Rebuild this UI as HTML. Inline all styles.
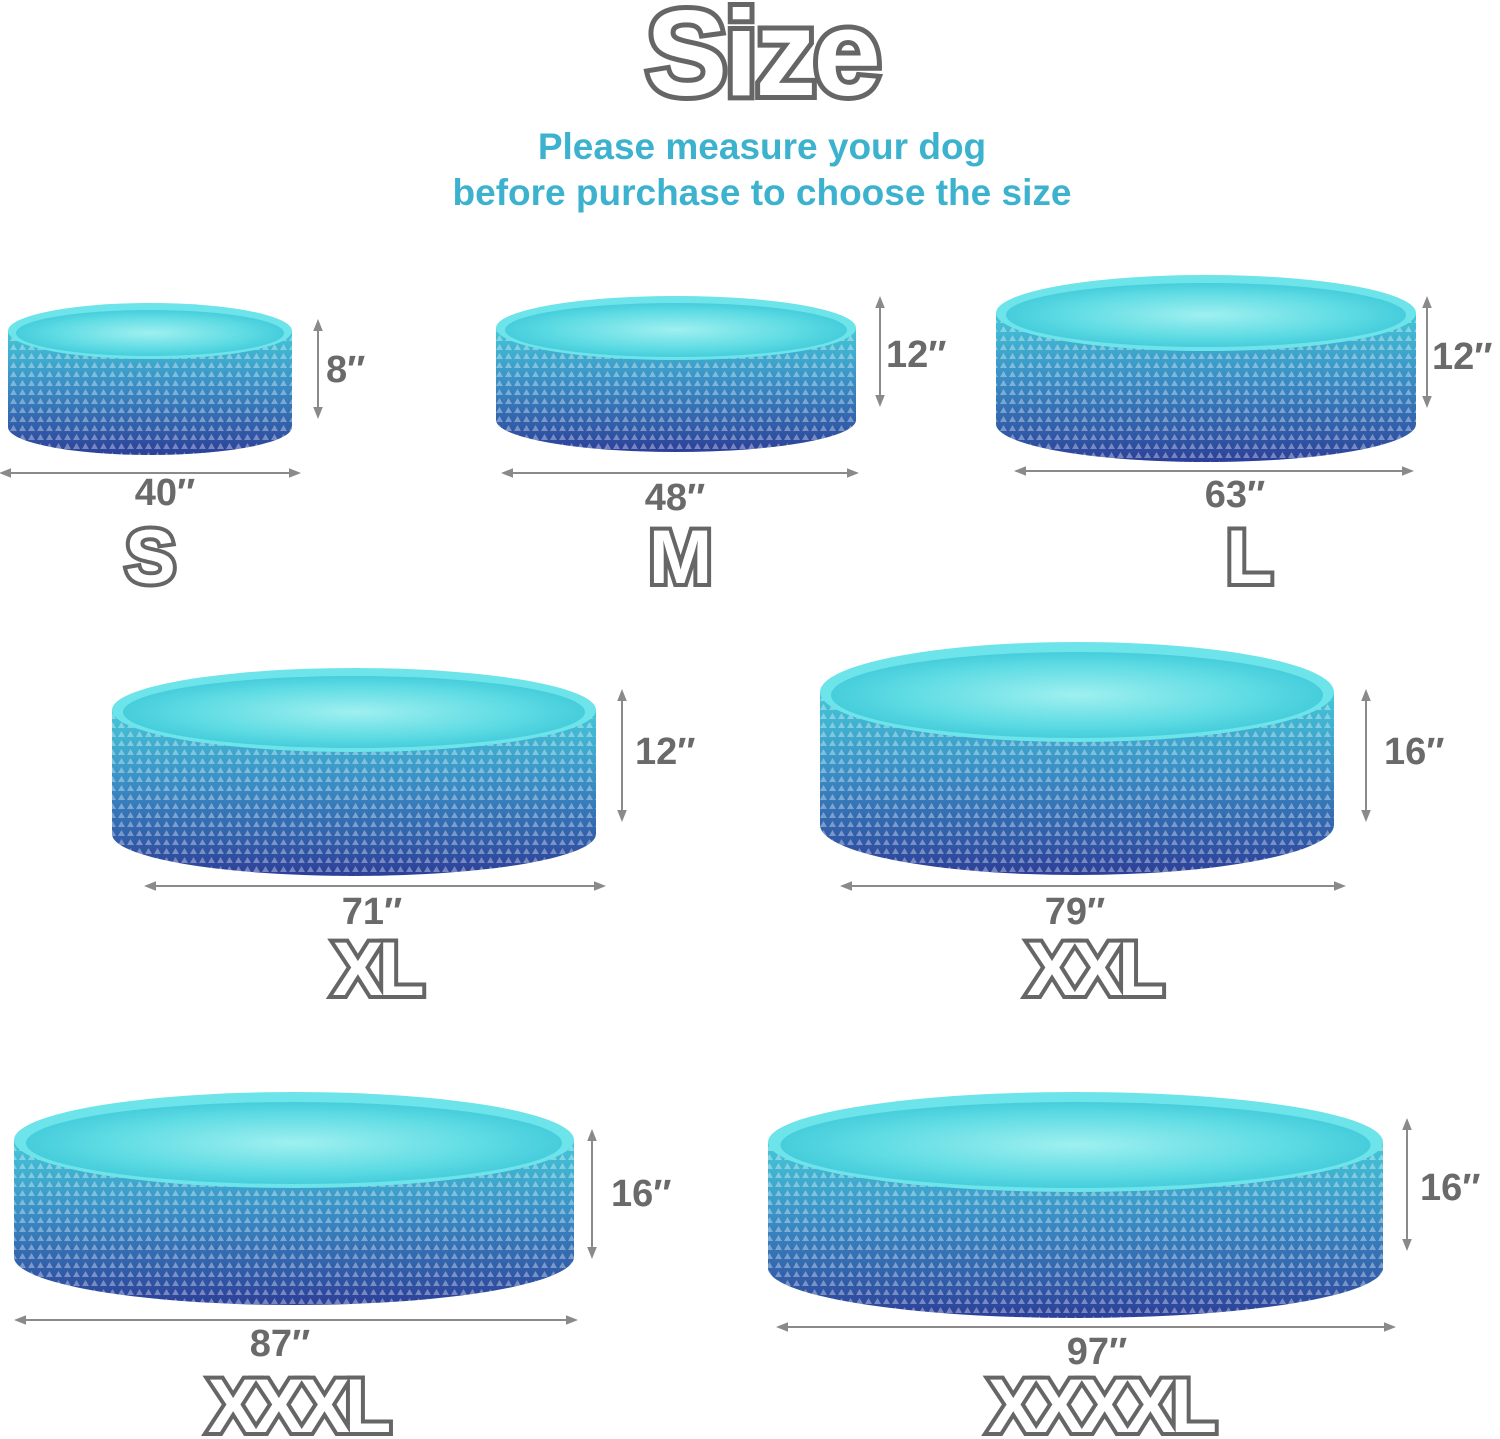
<!DOCTYPE html>
<html><head><meta charset="utf-8"><style>
html,body{margin:0;padding:0;background:#fff}
svg{display:block}
.dim{font-family:"Liberation Sans",sans-serif;font-weight:bold;font-size:38px;fill:#6a6a6a}
.sz{font-family:"Liberation Sans",sans-serif;font-weight:bold;font-size:76px;fill:#fff;stroke:#666;stroke-width:8;paint-order:stroke;letter-spacing:-5px}
.sub{font-family:"Liberation Sans",sans-serif;font-weight:bold;font-size:37px;fill:#3cb2ce}
.ar{stroke:#8a8a8a;stroke-width:2;fill:none;marker-start:url(#ah);marker-end:url(#ah)}
</style></head><body>
<svg width="1500" height="1439" viewBox="0 0 1500 1439" xmlns="http://www.w3.org/2000/svg">
<defs>
<linearGradient id="body" x1="0" y1="0" x2="0" y2="1">
<stop offset="0" stop-color="#45c9d8"/><stop offset="0.45" stop-color="#3a8cc4"/><stop offset="1" stop-color="#2c3f98"/>
</linearGradient>
<radialGradient id="water" cx="0.5" cy="0.5" r="0.6">
<stop offset="0" stop-color="#9ff0f0"/><stop offset="0.6" stop-color="#5ddbe3"/><stop offset="1" stop-color="#36c3d6"/>
</radialGradient>
<pattern id="tri" width="9" height="9" patternUnits="userSpaceOnUse">
<path d="M1 8 L4.5 2 L8 8Z" fill="#ffffff" fill-opacity="0.35"/>
</pattern>
<marker id="ah" viewBox="0 0 10 10" refX="5" refY="5" markerWidth="6" markerHeight="6" orient="auto-start-reverse">
<path d="M0 1 L10 5 L0 9Z" fill="#8a8a8a"/>
</marker>
</defs>

<text x="762" y="95" text-anchor="middle" style="font-family:'Liberation Sans',sans-serif;font-weight:bold;font-size:122px;fill:#fff;stroke:#666;stroke-width:10;paint-order:stroke;letter-spacing:-3px">Size</text>
<text class="sub" x="762" y="159" text-anchor="middle">Please measure your dog</text>
<text class="sub" x="762" y="205" text-anchor="middle">before purchase to choose the size</text>

<g>
<path d="M8 331 L8 427 A142 28 0 0 0 292 427 L292 331Z" fill="url(#body)"/>
<path d="M8 331 L8 427 A142 28 0 0 0 292 427 L292 331Z" fill="url(#tri)"/>
<ellipse cx="150" cy="331" rx="142" ry="28" fill="#6de3ea"/>
<ellipse cx="150" cy="333" rx="134" ry="23" fill="url(#water)"/>
</g>
<g>
<path d="M496 328 L496 420 A180 32 0 0 0 856 420 L856 328Z" fill="url(#body)"/>
<path d="M496 328 L496 420 A180 32 0 0 0 856 420 L856 328Z" fill="url(#tri)"/>
<ellipse cx="676" cy="328" rx="180" ry="32" fill="#6de3ea"/>
<ellipse cx="676" cy="330" rx="171" ry="27" fill="url(#water)"/>
</g>
<g>
<path d="M996 313 L996 424 A210 38 0 0 0 1416 424 L1416 313Z" fill="url(#body)"/>
<path d="M996 313 L996 424 A210 38 0 0 0 1416 424 L1416 313Z" fill="url(#tri)"/>
<ellipse cx="1206" cy="313" rx="210" ry="38" fill="#6de3ea"/>
<ellipse cx="1206" cy="315" rx="200" ry="32" fill="url(#water)"/>
</g>
<g>
<path d="M112 710 L112 834 A242 42 0 0 0 596 834 L596 710Z" fill="url(#body)"/>
<path d="M112 710 L112 834 A242 42 0 0 0 596 834 L596 710Z" fill="url(#tri)"/>
<ellipse cx="354" cy="710" rx="242" ry="42" fill="#6de3ea"/>
<ellipse cx="354" cy="712" rx="231" ry="36" fill="url(#water)"/>
</g>
<g>
<path d="M820 692 L820 825 A257 50 0 0 0 1334 825 L1334 692Z" fill="url(#body)"/>
<path d="M820 692 L820 825 A257 50 0 0 0 1334 825 L1334 692Z" fill="url(#tri)"/>
<ellipse cx="1077" cy="692" rx="257" ry="50" fill="#6de3ea"/>
<ellipse cx="1077" cy="695" rx="246" ry="43" fill="url(#water)"/>
</g>
<g>
<path d="M14 1140 L14 1257 A280 48 0 0 0 574 1257 L574 1140Z" fill="url(#body)"/>
<path d="M14 1140 L14 1257 A280 48 0 0 0 574 1257 L574 1140Z" fill="url(#tri)"/>
<ellipse cx="294" cy="1140" rx="280" ry="48" fill="#6de3ea"/>
<ellipse cx="294" cy="1143" rx="268" ry="41" fill="url(#water)"/>
</g>
<g>
<path d="M768 1142 L768 1268 A307.5 50 0 0 0 1383 1268 L1383 1142Z" fill="url(#body)"/>
<path d="M768 1142 L768 1268 A307.5 50 0 0 0 1383 1268 L1383 1142Z" fill="url(#tri)"/>
<ellipse cx="1075.5" cy="1142" rx="307.5" ry="50" fill="#6de3ea"/>
<ellipse cx="1075.5" cy="1145" rx="295" ry="43" fill="url(#water)"/>
</g>

<line class="ar" x1="318" y1="325" x2="318" y2="413"/>
<line class="ar" x1="5" y1="473" x2="295" y2="473"/>
<line class="ar" x1="880" y1="302" x2="880" y2="401"/>
<line class="ar" x1="507" y1="473" x2="853" y2="473"/>
<line class="ar" x1="1427" y1="302" x2="1427" y2="402"/>
<line class="ar" x1="1020" y1="471" x2="1408" y2="471"/>
<line class="ar" x1="622" y1="695" x2="622" y2="816"/>
<line class="ar" x1="150" y1="886" x2="600" y2="886"/>
<line class="ar" x1="1366" y1="695" x2="1366" y2="816"/>
<line class="ar" x1="846" y1="886" x2="1340" y2="886"/>
<line class="ar" x1="592" y1="1135" x2="592" y2="1253"/>
<line class="ar" x1="20" y1="1320" x2="572" y2="1320"/>
<line class="ar" x1="1407" y1="1124" x2="1407" y2="1245"/>
<line class="ar" x1="782" y1="1327" x2="1390" y2="1327"/>

<text class="dim" x="326" y="382">8″</text>
<text class="dim" x="165" y="505" text-anchor="middle">40″</text>
<text class="dim" x="886" y="367">12″</text>
<text class="dim" x="675" y="510" text-anchor="middle">48″</text>
<text class="dim" x="1432" y="369">12″</text>
<text class="dim" x="1235" y="507" text-anchor="middle">63″</text>
<text class="dim" x="635" y="764">12″</text>
<text class="dim" x="372" y="924" text-anchor="middle">71″</text>
<text class="dim" x="1384" y="764">16″</text>
<text class="dim" x="1075" y="924" text-anchor="middle">79″</text>
<text class="dim" x="611" y="1206">16″</text>
<text class="dim" x="280" y="1356" text-anchor="middle">87″</text>
<text class="dim" x="1420" y="1200">16″</text>
<text class="dim" x="1097" y="1364" text-anchor="middle">97″</text>

<text class="sz" x="148" y="583" text-anchor="middle">S</text>
<text class="sz" x="678" y="583" text-anchor="middle">M</text>
<text class="sz" x="1247" y="583" text-anchor="middle">L</text>
<text class="sz" x="376" y="995" text-anchor="middle">XL</text>
<text class="sz" x="1093" y="995" text-anchor="middle">XXL</text>
<text class="sz" x="297" y="1432" text-anchor="middle">XXXL</text>
<text class="sz" x="1100" y="1432" text-anchor="middle">XXXXL</text>
</svg>
</body></html>
